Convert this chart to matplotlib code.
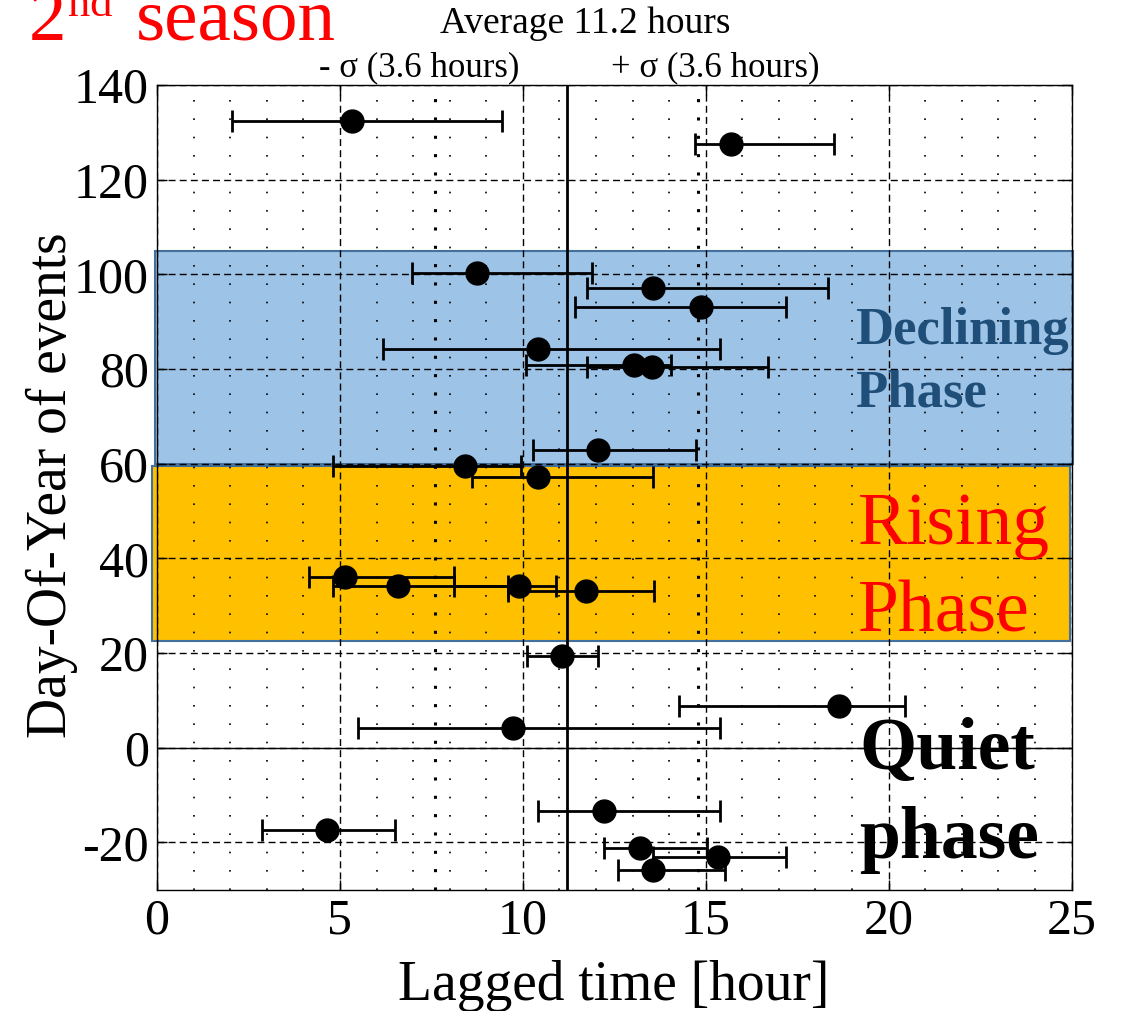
import numpy as np
import matplotlib
matplotlib.use("Agg")
import matplotlib.pyplot as plt
from matplotlib.patches import Rectangle

plt.rcParams['font.family'] = ['Liberation Serif', 'DejaVu Serif']
plt.rcParams['axes.unicode_minus'] = False

# ── data ────────────────────────────────────────────────────
lag = np.array([5.33, 15.68, 8.74, 13.55, 14.86, 10.41, 13.03, 13.52, 12.05,
                8.42, 10.41, 5.14, 6.58, 9.89, 11.72, 11.07, 18.63, 9.73,
                12.21, 4.64, 13.20, 15.33, 13.55])
doy = np.array([132.3, 127.6, 100.2, 97.0, 93.0, 84.2, 80.8, 80.4, 62.9,
                59.5, 57.2, 36.0, 34.1, 34.2, 33.2, 19.4, 8.9, 4.2,
                -13.3, -17.3, -21.1, -23.0, -25.9])
lag_lo = np.array([2.05, 14.70, 6.97, 11.75, 11.42, 6.17, 10.08, 11.75, 10.27,
                   4.81, 8.61, 4.15, 4.81, 8.11, 9.59, 10.11, 14.26, 5.49,
                   10.41, 2.87, 12.21, 13.55, 12.60])
lag_hi = np.array([9.43, 18.50, 11.89, 18.33, 17.19, 15.38, 14.05, 16.69, 14.73,
                   9.95, 13.55, 8.11, 9.59, 10.90, 13.58, 12.05, 20.46, 15.38,
                   15.38, 6.50, 15.03, 17.19, 15.52])

mean_lag = 11.2
sigma_lag = 3.6
declining = (60, 105)
rising = (22.5, 59.5)

fig = plt.figure(figsize=(11.22, 10.11), dpi=100)
ax = fig.add_axes([0.140, 0.120, 0.815, 0.796])

# phase boxes
ax.add_patch(Rectangle((-0.05, declining[0]), 25.1, declining[1] - declining[0],
                       facecolor="#9DC3E6", edgecolor="#41719C", lw=1.5,
                       clip_on=False, zorder=1))
ax.add_patch(Rectangle((-0.14, rising[0]), 25.1, rising[1] - rising[0],
                       facecolor="#FFC000", edgecolor="#41719C", lw=1.5,
                       clip_on=False, zorder=1))

# grid: dashed majors, dotted minor columns
ax.set_xlim(0, 25)
ax.set_ylim(-30, 140)
ax.set_xticks(np.arange(0, 26, 5))
ax.set_yticks(np.arange(-20, 141, 20))
ax.set_xticks(np.arange(1, 25, 1), minor=True)
ax.grid(True, which="major", color="k", lw=1.0, ls=(0, (5, 3)))
ax.grid(True, which="minor", axis="x", color="k", lw=1.2, ls=(0, (1, 10)))
ax.tick_params(which="minor", length=0)
ax.tick_params(which="major", direction="in", length=7, width=1,
               top=True, right=True, labelsize=36, pad=6)

ax.axhline(0, color="k", lw=1.0, zorder=1.6)
ax.axvline(mean_lag, color="k", lw=2.0, zorder=1.7)
for xs in (mean_lag - sigma_lag, mean_lag + sigma_lag):
    ax.axvline(xs, color="k", lw=2.2, ls=(0, (1, 5)), zorder=1.7)

ax.errorbar(lag, doy, xerr=[lag - lag_lo, lag_hi - lag], fmt="o", color="k",
            ms=16.5, capsize=8, elinewidth=2.0, capthick=2.0, zorder=3)

for sp in ax.spines.values():
    sp.set_linewidth(1.0)

# phase labels
ax.text(19.07, 85.3, "Declining", fontsize=38, fontweight="bold", color="#1F4E79")
ax.text(19.07, 72.0, "Phase", fontsize=38, fontweight="bold", color="#1F4E79")
ax.text(19.15, 43.1, "Rising", fontsize=53, color="#FF0000")
ax.text(19.15, 24.5, "Phase", fontsize=53, color="#FF0000")
ax.text(19.2, -4.6, "Quiet", fontsize=53, fontweight="bold", color="k")
ax.text(19.2, -23.4, "phase", fontsize=53, fontweight="bold", color="k")

# axis labels
fig.text(614 / 1122, 1 - 1000 / 1011, "Lagged time [hour]", fontsize=40,
         ha="center", va="baseline")
fig.text(52 / 1122, 0.520, "Day-Of-Year of events", fontsize=40,
         rotation=90, ha="center", va="center")

# annotations above the plot
fig.text(585 / 1122, 1 - 33 / 1011, "Average 11.2 hours", fontsize=27,
         ha="center", va="baseline")
fig.text(419 / 1122, 1 - 76 / 1011, "- \u03c3 (3.6 hours)", fontsize=25,
         ha="center", va="baseline")
fig.text(715 / 1122, 1 - 76 / 1011, "+ \u03c3 (3.6 hours)", fontsize=25,
         ha="center", va="baseline")

# title, partly cut at top as in the original
fig.text(29 / 1122, 1 - 40 / 1011, "2", fontsize=54, color="red", va="baseline")
fig.text(68 / 1122, 1 - 16 / 1011, "nd", fontsize=32, color="red", va="baseline")
fig.text(136 / 1122, 1 - 40 / 1011, "season", fontsize=54, color="red",
         va="baseline")

fig.savefig("out.png", dpi=100)
